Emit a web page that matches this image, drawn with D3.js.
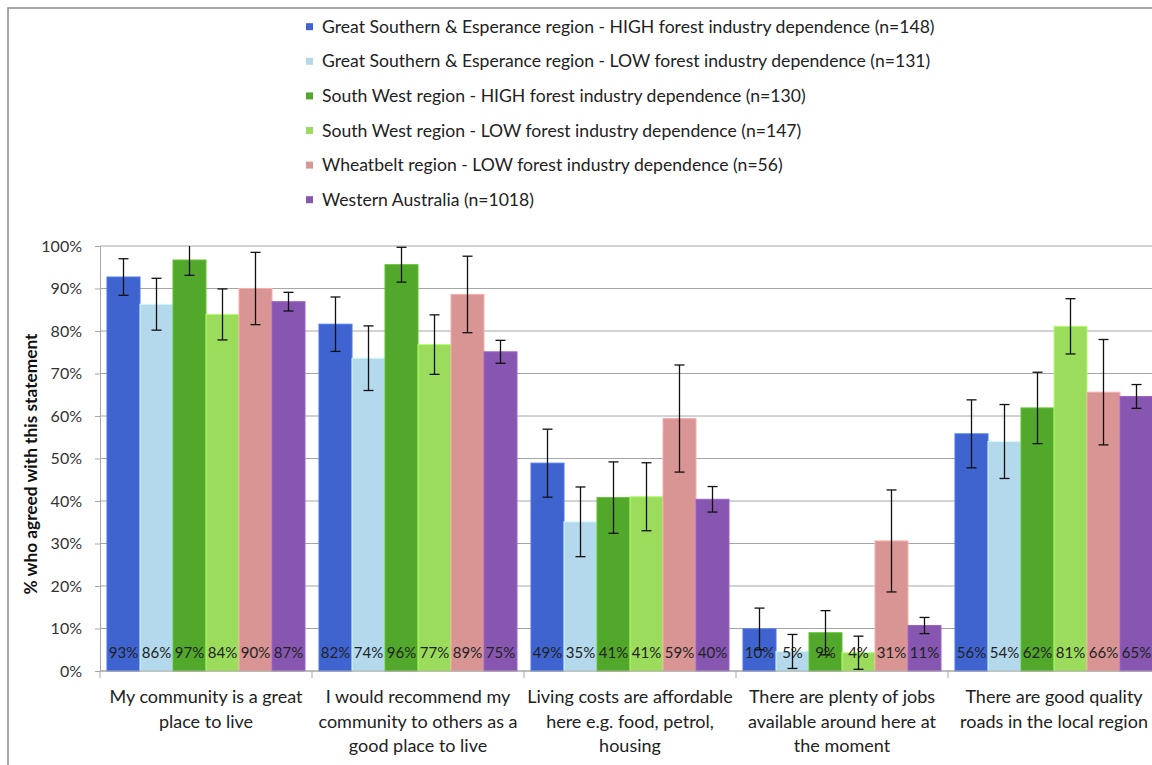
<!DOCTYPE html>
<html>
<head>
<meta charset="utf-8">
<script src="https://cdn.jsdelivr.net/npm/d3@7"></script>
<style>
  html, body { margin: 0; padding: 0; background: #fff; }
  svg { display: block; font-family: Lato, "Open Sans", sans-serif; }
</style>
</head>
<body>
<svg id="chart" width="1152" height="765"></svg>
<script>
const categories = [
  ["My community is a great", "place to live"],
  ["I would recommend my", "community to others as a", "good place to live"],
  ["Living costs are affordable", "here e.g. food, petrol,", "housing"],
  ["There are plenty of jobs", "available around here at", "the moment"],
  ["There are good quality", "roads in the local region"]
];
const seriesNames = [
  "Great Southern & Esperance region - HIGH forest industry dependence (n=148)",
  "Great Southern & Esperance region - LOW forest industry dependence (n=131)",
  "South West region - HIGH forest industry dependence (n=130)",
  "South West region - LOW forest industry dependence (n=147)",
  "Wheatbelt region - LOW forest industry dependence (n=56)",
  "Western Australia (n=1018)"
];
const seriesColors = ["#3F64CF", "#B4D9EC", "#52A82A", "#9CDC5D", "#D99594", "#8756B0"];
// values (%) per series, one per category
const gseHigh = [92.7, 81.6, 48.9, 9.9, 55.8];
const gseLow  = [86.3, 73.6, 35.1, 4.6, 54.0];
const swHigh  = [96.7, 95.6, 40.8, 9.0, 61.9];
const swLow   = [83.9, 76.8, 41.0, 4.3, 81.1];
const wheat   = [90.0, 88.6, 59.4, 30.6, 65.6];
const wa      = [86.9, 75.1, 40.4, 10.7, 64.6];
// error margins (± percentage points)
const gseHighErr = [4.3, 6.4, 8.0, 4.9, 8.0];
const gseLowErr  = [6.1, 7.6, 8.2, 4.0, 8.7];
const swHighErr  = [3.6, 4.1, 8.4, 5.2, 8.4];
const swLowErr   = [6.0, 7.0, 8.0, 3.9, 6.5];
const wheatErr   = [8.5, 9.0, 12.6, 12.0, 12.4];
const waErr      = [2.2, 2.7, 3.0, 1.9, 2.8];
const yTicks = [0, 10, 20, 30, 40, 50, 60, 70, 80, 90, 100];
const yTitle = "% who agreed with this statement";

const seriesValues = [gseHigh, gseLow, swHigh, swLow, wheat, wa];
const seriesErrs = [gseHighErr, gseLowErr, swHighErr, swLowErr, wheatErr, waErr];

const svg = d3.select("#chart");

// chart border
svg.append("rect").attr("x", 8).attr("y", 8).attr("width", 1200).attr("height", 800)
  .attr("fill", "none").attr("stroke", "#8a8a8a").attr("stroke-width", 1.5);

const catIdx = categories.map((c, i) => i);
const x0 = d3.scaleBand().domain(catIdx).range([100, 1160]).paddingInner(0);
const x1 = d3.scaleBand().domain(d3.range(seriesNames.length)).range([7, x0.bandwidth() - 7]).padding(0);
const y = d3.scaleLinear().domain([0, 100]).range([671, 246]).clamp(true);

// gridlines
svg.append("g").selectAll("line").data(yTicks).join("line")
  .attr("x1", 100).attr("x2", 1160)
  .attr("y1", d => y(d)).attr("y2", d => y(d))
  .attr("stroke", "#a6a6a6").attr("stroke-width", 1);

// y axis
const yAxis = d3.axisLeft(y).tickValues(yTicks).tickFormat(d => d + "%").tickSize(5).tickPadding(13);
const yg = svg.append("g").attr("transform", "translate(100,0)").call(yAxis);
yg.select(".domain").attr("stroke", "#a6a6a6");
yg.selectAll(".tick line").attr("stroke", "#a6a6a6");
yg.selectAll(".tick text").attr("font-size", 16).attr("fill", "#333").attr("font-family", "Lato, sans-serif");

// bars
const groups = svg.append("g").selectAll("g").data(catIdx).join("g")
  .attr("transform", c => `translate(${x0(c)},0)`);

groups.selectAll("rect").data(c => seriesValues.map((s, si) => ({si, v: s[c], e: seriesErrs[si][c]})))
  .join("rect")
  .attr("x", d => x1(d.si)).attr("width", x1.bandwidth())
  .attr("y", d => y(d.v)).attr("height", d => y(0) - y(d.v))
  .attr("fill", d => seriesColors[d.si])
  .attr("stroke", d => d3.color(seriesColors[d.si]).brighter(0.4)).attr("stroke-width", 1);

// data labels
groups.selectAll("text.lbl").data(c => seriesValues.map((s, si) => ({si, v: s[c]})))
  .join("text").attr("class", "lbl")
  .attr("x", d => x1(d.si) + x1.bandwidth() / 2).attr("y", 658)
  .attr("text-anchor", "middle").attr("font-size", 15).attr("fill", "#222")
  .text(d => Math.round(d.v) + "%");

// error bars
const eb = groups.selectAll("g.err").data(c => seriesValues.map((s, si) => ({si, v: s[c], e: seriesErrs[si][c]})))
  .join("g").attr("class", "err")
  .attr("transform", d => `translate(${x1(d.si) + x1.bandwidth() / 2},0)`);
eb.append("line").attr("x1", 0).attr("x2", 0)
  .attr("y1", d => y(d.v + d.e)).attr("y2", d => y(d.v - d.e))
  .attr("stroke", "#111").attr("stroke-width", 1.3);
eb.append("line").attr("x1", -5).attr("x2", 5)
  .attr("y1", d => y(d.v - d.e)).attr("y2", d => y(d.v - d.e))
  .attr("stroke", "#111").attr("stroke-width", 1.3);
eb.filter(d => d.v + d.e <= 100).append("line").attr("x1", -5).attr("x2", 5)
  .attr("y1", d => y(d.v + d.e)).attr("y2", d => y(d.v + d.e))
  .attr("stroke", "#111").attr("stroke-width", 1.3);

// x axis
const xg = svg.append("g").attr("transform", "translate(0,671)");
xg.append("line").attr("x1", 100).attr("x2", 1160).attr("y1", 0).attr("y2", 0).attr("stroke", "#a6a6a6");
xg.selectAll("line.sep").data(d3.range(categories.length + 1)).join("line").attr("class", "sep")
  .attr("x1", i => i < categories.length ? x0(i) : x0(i - 1) + x0.bandwidth())
  .attr("x2", i => i < categories.length ? x0(i) : x0(i - 1) + x0.bandwidth())
  .attr("y1", 0).attr("y2", 7).attr("stroke", "#a6a6a6");
xg.selectAll("text.cat").data(catIdx).join("text").attr("class", "cat")
  .attr("x", c => x0(c) + x0.bandwidth() / 2).attr("y", 32)
  .attr("text-anchor", "middle").attr("font-size", 18).attr("fill", "#222")
  .each(function(c) {
    d3.select(this).selectAll("tspan").data(categories[c]).join("tspan")
      .attr("x", x0(c) + x0.bandwidth() / 2).attr("dy", (d, i) => i === 0 ? 0 : 24.5)
      .text(d => d);
  });

// y title
svg.append("text").attr("transform", "translate(30,464) rotate(-90)")
  .attr("text-anchor", "middle").attr("dominant-baseline", "central")
  .attr("font-size", 17.3).attr("font-weight", "bold").attr("fill", "#111")
  .text(yTitle);

// legend
const lg = svg.append("g").selectAll("g").data(seriesNames).join("g")
  .attr("transform", (d, i) => `translate(306,${26.7 + i * 34.6})`);
lg.append("rect").attr("x", 0).attr("y", -3.5).attr("width", 7).attr("height", 7)
  .attr("fill", (d, i) => seriesColors[i]);
lg.append("text").attr("x", 16).attr("y", 6).attr("font-size", 17.6).attr("fill", "#222")
  .text(d => d);
</script>
</body>
</html>
